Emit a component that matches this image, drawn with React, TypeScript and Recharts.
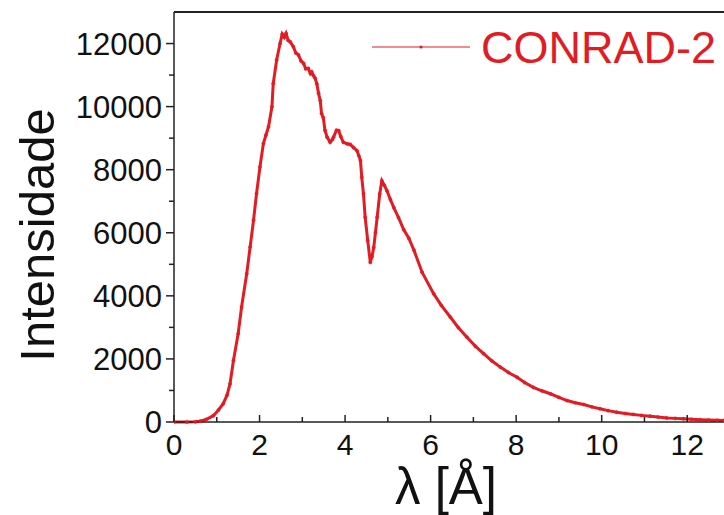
import React from 'react';
import { LineChart, Line, XAxis, YAxis, ReferenceLine, Legend } from 'recharts';

const wavelength = [
    0, 0.3, 0.5, 0.61, 0.75, 0.92, 1.04, 1.15, 1.24, 1.31, 1.39, 1.5, 1.58, 1.7, 1.78, 1.86, 1.93, 2.01, 2.09, 2.15,
    2.21, 2.29, 2.32, 2.4, 2.48, 2.53, 2.58, 2.62, 2.67, 2.72, 2.79, 2.85, 2.91, 2.97, 3.03, 3.08, 3.14, 3.19, 3.22, 3.26,
    3.3, 3.34, 3.38, 3.42, 3.45, 3.49, 3.53, 3.58, 3.65, 3.7, 3.73, 3.8, 3.85, 3.9, 3.96, 4.05, 4.12, 4.2, 4.28, 4.32,
    4.36, 4.39, 4.43, 4.47, 4.53, 4.59, 4.63, 4.67, 4.71, 4.75, 4.81, 4.86, 4.92, 4.98, 5.06, 5.14, 5.25, 5.37, 5.49, 5.61,
    5.8, 6.07, 6.25, 6.46, 6.65, 6.85, 7.05, 7.24, 7.43, 7.63, 7.82, 8.02, 8.2, 8.4, 8.6, 8.8, 9.0, 9.19, 9.38, 9.58,
    9.77, 9.96, 10.15, 10.35, 10.55, 10.74, 10.93, 11.13, 11.32, 11.52, 11.72, 11.91, 12.1, 12.3, 12.5, 12.7, 12.86,
];

const intensity = [
    0, 0, 5, 25, 80, 200, 380, 580, 850, 1210, 1950, 2800, 3645, 4700, 5550, 6400, 7245, 8090, 8830, 9100,
    9360, 9995, 10730, 11480, 12000, 12300, 12200, 12320, 12100, 12050, 11900, 11700, 11640, 11450, 11370, 11200, 11210, 11050, 11100, 10985,
    10900, 10720, 10420, 10190, 9780, 9650, 9250, 9030, 8870, 8950, 9030, 9250, 9240, 9050, 8870, 8820, 8800, 8700, 8600, 8450,
    8290, 7760, 7240, 6490, 5750, 5060, 5250, 5530, 6000, 6490, 7230, 7650, 7500, 7330, 7050, 6800, 6480, 6100, 5830, 5450,
    4750, 4070, 3700, 3330, 2990, 2690, 2400, 2165, 1940, 1740, 1570, 1420, 1250, 1100, 990, 895, 780, 680, 610, 555,
    480, 420, 360, 310, 270, 240, 210, 185, 155, 130, 115, 100, 85, 70, 60, 55, 50,
];

const xTicks = [0, 1, 2, 3, 4, 5, 6, 7, 8, 9, 10, 11, 12];
const yTicks = [0, 1000, 2000, 3000, 4000, 5000, 6000, 7000, 8000, 9000, 10000, 11000, 12000, 13000];

const data = wavelength.map((x, i) => ({ x, y: intensity[i] }));

const red = '#e31b23';
const axisColor = '#222';
const font = '"Liberation Sans", Arial, sans-serif';

const XTick = (props: any) => {
    const { x, y, payload } = props;
    const major = payload.value % 2 === 0;
    return (
        <g>
            <line x1={x} x2={x} y1={y} y2={y - (major ? 7 : 5)} stroke={axisColor} strokeWidth={1.5} />
            {major && (
                <text x={x} y={y + 33} textAnchor="middle" fontSize={30} fontFamily={font} fill="#111">
                    {payload.value}
                </text>
            )}
        </g>
    );
};

const YTick = (props: any) => {
    const { x, y, payload } = props;
    const major = payload.value % 2000 === 0;
    if (payload.value > 12000) return <g />;
    return (
        <g>
            <line x1={x} x2={x - (major ? 8 : 5)} y1={y} y2={y} stroke={axisColor} strokeWidth={1.5} />
            {major && (
                <text x={x - 12} y={y + 11} textAnchor="end" fontSize={31} fontFamily={font} fill="#111">
                    {payload.value}
                </text>
            )}
        </g>
    );
};

const YLabel = (props: any) => {
    const { viewBox } = props;
    const cy = viewBox.y + viewBox.height / 2 + 18;
    return (
        <text transform={`translate(54, ${cy}) rotate(-90)`} textAnchor="middle" fontSize={49} fontFamily={font} fill="#111">
            Intensidade
        </text>
    );
};

const XLabel = (props: any) => {
    const { viewBox } = props;
    const cx = viewBox.x + viewBox.width / 2 - 3;
    return (
        <text x={cx} y={504} textAnchor="middle" fontSize={51} fontFamily={font} fill="#111">
            λ [Å]
        </text>
    );
};

const renderLegend = () => (
    <svg width={350} height={60}>
        <line x1={2} x2={100} y1={27} y2={27} stroke={red} strokeWidth={1.2} />
        <circle cx={51} cy={27} r={1.6} fill={red} />
        <text x={111} y={43} fontSize={45} fontFamily={font} fill={red}>CONRAD-2</text>
    </svg>
);

const App = () => {
    return (
        <div style={{ position: 'absolute', left: 0, top: 0, width: 724, height: 515, overflow: 'hidden', background: '#fff' }}>
            <LineChart width={724} height={515} data={data} margin={{ top: 12, right: 0, left: 0, bottom: 0 }}>
                <XAxis
                    dataKey="x"
                    type="number"
                    domain={[0, 12.86]}
                    allowDataOverflow
                    ticks={xTicks}
                    tick={<XTick />}
                    tickLine={false}
                    tickSize={0}
                    tickMargin={0}
                    interval={0}
                    height={93}
                    axisLine={{ stroke: axisColor, strokeWidth: 1.5 }}
                    label={<XLabel />}
                />
                <YAxis
                    type="number"
                    domain={[0, 13000]}
                    ticks={yTicks}
                    tick={<YTick />}
                    tickLine={false}
                    tickSize={0}
                    tickMargin={0}
                    interval={0}
                    width={174}
                    axisLine={{ stroke: axisColor, strokeWidth: 1.5 }}
                    label={<YLabel />}
                />
                <ReferenceLine y={13000} stroke={axisColor} strokeWidth={2} />
                <Legend
                    content={renderLegend}
                    layout="horizontal"
                    verticalAlign="middle"
                    align="center"
                    wrapperStyle={{ position: 'absolute', left: 370, top: 20, width: 350, height: 60 }}
                />
                <Line
                    type="linear"
                    dataKey="y"
                    stroke={red}
                    strokeWidth={3}
                    dot={{ r: 1.6, fill: red, stroke: red, strokeWidth: 0.5 }}
                    isAnimationActive={false}
                />
            </LineChart>
        </div>
    );
};

export default App;
